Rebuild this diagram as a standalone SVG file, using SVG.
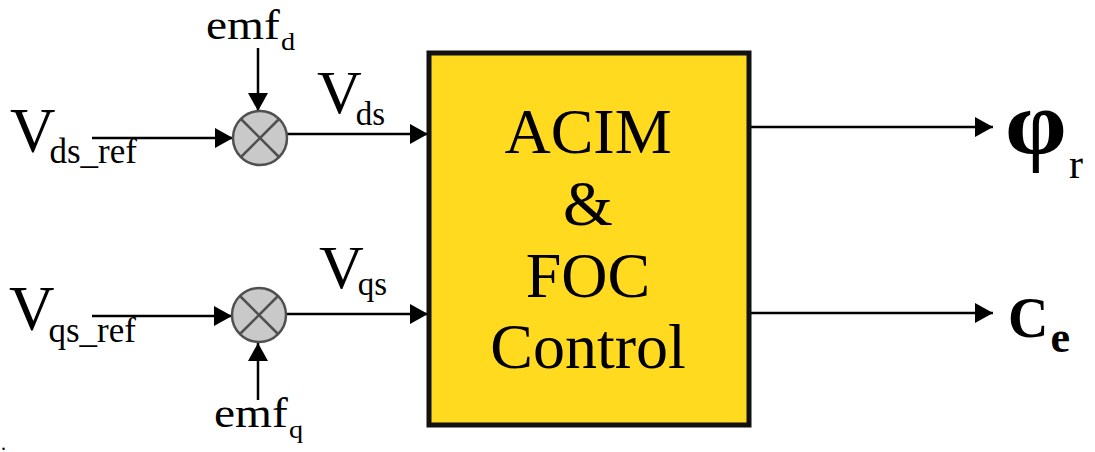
<svg xmlns="http://www.w3.org/2000/svg" width="1095" height="452" viewBox="0 0 1095 452">
<style>
text{font-family:'Liberation Serif','Times New Roman',serif;fill:#000}
.w{stroke:#000;stroke-width:2.5;fill:none}
.sum{fill:#c9c9c9;stroke:#505050;stroke-width:2.5}
.x{stroke:#505050;stroke-width:2.5}
</style>
<defs>
<marker id="ahL" viewBox="0 0 18 20" refX="18" refY="10" markerWidth="18" markerHeight="20" orient="auto" markerUnits="userSpaceOnUse">
<path d="M0,0 L18,10 L0,20 Z" fill="#000"/>
</marker>
</defs>
<rect width="1095" height="452" fill="#fff"/>
<g id="connectors">
<line class="w" x1="92" y1="138" x2="233" y2="138" marker-end="url(#ahL)"/>
<line class="w" x1="258" y1="48" x2="258" y2="111" marker-end="url(#ahL)"/>
<line class="w" x1="287" y1="134" x2="428" y2="134" marker-end="url(#ahL)"/>
<line class="w" x1="92" y1="316" x2="232" y2="316" marker-end="url(#ahL)"/>
<line class="w" x1="258" y1="400" x2="258" y2="343" marker-end="url(#ahL)"/>
<line class="w" x1="286" y1="314" x2="428" y2="314" marker-end="url(#ahL)"/>
<line class="w" x1="750" y1="127" x2="993" y2="127" marker-end="url(#ahL)"/>
<line class="w" x1="750" y1="313" x2="993" y2="313" marker-end="url(#ahL)"/>
</g>
<g id="sum_d">
<circle class="sum" cx="260" cy="138" r="27"/>
<line class="x" x1="241" y1="119" x2="279" y2="157"/>
<line class="x" x1="279" y1="119" x2="241" y2="157"/>
</g>
<g id="sum_q">
<circle class="sum" cx="259" cy="315" r="27"/>
<line class="x" x1="240" y1="296" x2="278" y2="334"/>
<line class="x" x1="278" y1="296" x2="240" y2="334"/>
</g>
<g id="block">
<rect x="429" y="53" width="320" height="372" fill="#FFDA1F" stroke="#111" stroke-width="5"/>
<text x="588" y="153" font-size="64" text-anchor="middle">ACIM</text>
<text x="588" y="225" font-size="64" text-anchor="middle">&amp;</text>
<text x="588" y="297" font-size="64" text-anchor="middle">FOC</text>
<text x="588" y="368" font-size="64" text-anchor="middle">Control</text>
</g>
<g id="label_vdsref"><text x="10" y="152" font-size="63">V<tspan font-size="35" dx="-6" dy="11">ds_ref</tspan></text></g>
<g id="label_emfd"><text transform="translate(206,39) scale(1.13,1)" font-size="42">emf<tspan font-size="25" dx="1" dy="11">d</tspan></text></g>
<g id="label_vds"><text x="317" y="113" font-size="62">V<tspan font-size="33" dx="-6" dy="12">ds</tspan></text></g>
<g id="label_vqsref"><text x="9" y="330" font-size="63">V<tspan font-size="35" dx="-6" dy="12">qs_ref</tspan></text></g>
<g id="label_emfq"><text transform="translate(214,427) scale(1.13,1)" font-size="42">emf<tspan font-size="25" dx="1" dy="11">q</tspan></text></g>
<g id="label_vqs"><text x="319" y="288" font-size="62">V<tspan font-size="33" dx="-6" dy="7">qs</tspan></text></g>
<g id="label_phir">
<text transform="translate(1005,154) scale(1.1,1)" font-size="90" font-weight="bold">φ</text>
<text x="1069" y="178" font-size="42">r</text>
</g>
<g id="label_ce"><text x="1008" y="337" font-size="56" font-weight="bold">C<tspan font-size="44" dx="2" dy="15">e</tspan></text></g>
<text x="1" y="450" font-size="20">.</text>
</svg>
